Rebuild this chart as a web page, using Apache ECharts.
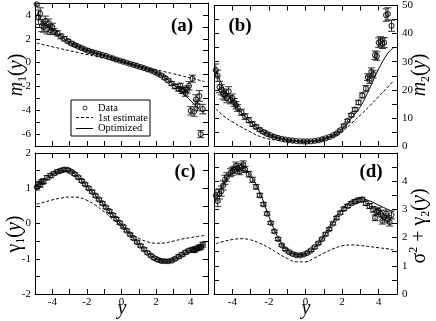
<!DOCTYPE html>
<html>
<head>
<meta charset="utf-8">
<script src="https://cdn.jsdelivr.net/npm/echarts@6/dist/echarts.min.js"></script>
<style>
  html, body { margin: 0; padding: 0; background: #fff; }
  #chart { width: 436px; height: 321px; }
</style>
</head>
<body>
<div id="chart"></div>
<script>
// panel (a): m1(y)
const aX = [-4.9,-4.8,-4.7,-4.6,-4.5,-4.4,-4.3,-4.2,-4.1,-4.0,
  -3.9,-3.7,-3.5,-3.3,-3.1,-2.9,-2.7,-2.5,-2.3,-2.1,-1.9,-1.7,-1.5,-1.3,-1.1,-0.9,-0.7,-0.5,-0.3,-0.1,
  0.1,0.3,0.5,0.7,0.9,1.1,1.3,1.5,1.7,1.9,2.1,2.3,2.5,2.7,2.9,3.1,3.3,
  3.4,3.5,3.6,3.7,3.8,3.9,4.0,4.1,4.2,4.3,4.4,4.5,4.58,4.7]
const aY = [4.9,3.8,4.1,3.1,3.0,3.5,2.8,3.3,2.7,3.0,
  2.6,2.45,2.2,2.0,1.8,1.62,1.48,1.35,1.22,1.1,0.98,0.9,0.82,0.73,0.64,0.55,0.45,0.35,0.26,0.17,
  0.08,-0.01,-0.1,-0.19,-0.28,-0.37,-0.46,-0.56,-0.66,-0.78,-0.92,-1.08,-1.28,-1.5,-1.75,-2.0,-2.2,
  -1.95,-2.35,-2.3,-2.55,-2.25,-1.95,-4.05,-1.35,-4.1,-3.1,-3.6,-2.8,-6.0,-3.9]
const aErr = [0.15,0.6,0.5,0.5,0.45,0.4,0.4,0.35,0.35,0.3,
  0.25,0.22,0.2,0.18,0.15,0.13,0.12,0.1,0.1,0.09,0.08,0.08,0.07,0.07,0.07,0.06,0.06,0.06,0.06,0.06,
  0.06,0.06,0.06,0.06,0.07,0.07,0.07,0.08,0.08,0.09,0.1,0.11,0.12,0.14,0.16,0.18,0.2,
  0.22,0.25,0.25,0.28,0.3,0.35,0.35,0.3,0.4,0.4,0.45,0.45,0.3,0.4]

// panel (b): m2(y)
const bX = [-4.9,-4.8,-4.7,-4.6,-4.5,-4.4,-4.3,-4.2,-4.1,-4.0,-3.9,-3.8,-3.7,
  -3.5,-3.3,-3.1,-2.9,-2.7,-2.5,-2.3,-2.1,-1.9,-1.7,-1.5,-1.3,-1.1,-0.9,-0.7,-0.5,-0.3,-0.1,
  0.1,0.3,0.5,0.7,0.9,1.1,1.3,1.5,1.7,1.9,2.1,2.3,2.5,2.7,2.9,3.1,3.3,
  3.4,3.5,3.6,3.7,3.8,3.9,4.0,4.1,4.2,4.3,4.4,4.5,4.7]
const bY = [27,25,21,20,18.5,18,17,19.5,16.5,17,15.5,14.5,13.5,
  12,10.5,9.2,7.8,6.8,5.8,5.0,4.3,3.8,3.3,2.9,2.6,2.3,2.1,1.9,1.8,1.7,1.65,
  1.65,1.7,1.85,2.05,2.35,2.75,3.2,3.8,4.5,5.6,7.2,9.0,11.0,13.0,15.5,18.0,20.5,
  24.5,23.5,26.5,25.5,32.3,32.0,36.8,37.2,36.5,36.8,46.6,47.0,42.8]
const bErr = [2.2,2.0,2.0,1.8,1.8,1.7,1.6,1.6,1.5,1.5,1.4,1.3,1.2,
  1.1,1.0,0.9,0.8,0.7,0.6,0.5,0.4,0.35,0.3,0.25,0.2,0.2,0.15,0.15,0.15,0.15,0.15,
  0.15,0.15,0.15,0.15,0.15,0.2,0.2,0.25,0.3,0.35,0.4,0.5,0.6,0.7,0.8,0.9,1.0,
  1.2,1.2,1.3,1.3,1.5,1.5,1.7,1.7,1.8,1.8,2.2,2.2,2.0]

// panel (c): gamma1(y)
const cX = [-4.9,-4.8,-4.7,-4.6,-4.5,
  -4.3,-4.1,-3.9,-3.7,-3.5,-3.3,-3.1,-2.9,-2.7,-2.5,-2.3,-2.1,-1.9,-1.7,-1.5,-1.3,-1.1,-0.9,-0.7,-0.5,-0.3,-0.1,
  0.1,0.3,0.5,0.7,0.9,1.1,1.3,1.5,1.7,1.9,2.1,2.3,2.5,2.7,2.9,3.1,3.3,3.5,3.7,3.9,4.1,
  4.2,4.3,4.4,4.5,4.6,4.7]
const cY = [1.03,1.12,1.1,1.18,1.2,
  1.3,1.36,1.42,1.47,1.5,1.53,1.52,1.47,1.4,1.31,1.21,1.11,1.0,0.9,0.79,0.68,0.57,0.46,0.35,0.24,0.13,0.02,
  -0.09,-0.2,-0.31,-0.42,-0.53,-0.63,-0.73,-0.83,-0.91,-0.98,-1.03,-1.06,-1.07,-1.07,-1.05,-1.0,-0.94,-0.88,-0.82,-0.77,-0.74,
  -0.76,-0.72,-0.7,-0.68,-0.66,-0.6]
const cErr = [0.08,0.08,0.07,0.07,0.07,
  0.06,0.06,0.05,0.05,0.05,0.05,0.04,0.04,0.04,0.04,0.04,0.04,0.04,0.04,0.04,0.04,0.04,0.04,0.04,0.04,0.04,0.04,
  0.04,0.04,0.04,0.04,0.04,0.04,0.04,0.04,0.04,0.04,0.04,0.04,0.04,0.04,0.04,0.04,0.05,0.05,0.05,0.05,0.05,
  0.06,0.06,0.06,0.07,0.07,0.07]

// panel (d): sigma^2 + gamma2(y)
const dX = [-4.9,-4.8,-4.7,-4.6,-4.5,-4.4,-4.3,
  -4.1,-4.0,-3.9,-3.8,-3.7,-3.6,-3.5,-3.4,-3.3,
  -3.1,-2.9,-2.7,-2.5,-2.3,-2.1,-1.9,-1.7,-1.5,-1.3,-1.1,-0.9,-0.7,-0.5,-0.3,-0.1,
  0.1,0.3,0.5,0.7,0.9,1.1,1.3,1.5,1.7,1.9,2.1,2.3,2.5,2.7,2.9,3.1,3.3,3.5,3.7,
  3.8,3.9,4.0,4.1,4.2,4.3,4.4,4.5,4.6,4.7]
const dY = [3.5,3.3,3.55,3.65,3.85,4.05,4.15,
  4.3,4.35,4.4,4.55,4.45,4.35,4.5,4.6,4.42,
  4.25,4.05,3.8,3.5,3.18,2.85,2.52,2.22,1.95,1.73,1.58,1.49,1.42,1.38,1.37,1.4,
  1.46,1.55,1.66,1.8,1.95,2.12,2.3,2.5,2.7,2.88,3.02,3.12,3.22,3.28,3.33,3.35,3.22,3.12,3.0,
  2.7,2.92,2.95,2.85,2.6,2.72,2.85,2.65,2.55,2.8]
const dErr = [0.2,0.2,0.18,0.18,0.16,0.16,0.15,
  0.14,0.14,0.13,0.13,0.12,0.12,0.12,0.12,0.11,
  0.1,0.09,0.08,0.07,0.06,0.06,0.05,0.05,0.05,0.04,0.04,0.04,0.04,0.04,0.04,0.04,
  0.04,0.04,0.04,0.04,0.04,0.05,0.05,0.05,0.05,0.05,0.06,0.06,0.06,0.07,0.07,0.08,0.08,0.09,0.1,
  0.1,0.1,0.11,0.11,0.12,0.12,0.13,0.13,0.14,0.14]

// model curves (optimized / first estimate)
const curveX = [-4.9,-4.5,-4,-3.5,-3,-2.5,-2,-1.5,-1,-0.5,0,0.5,1,1.5,2,2.5,3,3.5,4,4.5,4.8]
const aFit = [4.1,3.3,2.7,2.2,1.72,1.37,1.07,0.82,0.6,0.37,0.14,-0.08,-0.31,-0.55,-0.84,-1.25,-1.82,-2.5,-3.2,-3.9,-4.35]
const aGuess = [1.63,1.5,1.33,1.16,1.0,0.84,0.68,0.52,0.36,0.2,0.04,-0.12,-0.28,-0.44,-0.6,-0.77,-0.94,-1.11,-1.29,-1.48,-1.6]
const bFit = [27,21,16,11.8,8.4,5.9,4.1,3.0,2.25,1.8,1.65,1.85,2.5,3.7,6.0,9.8,14,20.5,27.5,33,35]
const bGuess = [13.2,10.8,8.6,6.7,5.0,3.4,2.5,1.95,1.55,1.35,1.3,1.5,2.1,3.3,5.2,8.0,11,14.2,17.6,21,23.1]
const cFit = [1.05,1.22,1.4,1.5,1.5,1.32,1.06,0.79,0.52,0.24,-0.03,-0.31,-0.58,-0.83,-1.0,-1.07,-1.03,-0.9,-0.77,-0.67,-0.6]
const cGuess = [0.55,0.6,0.67,0.72,0.75,0.74,0.66,0.52,0.33,0.12,-0.08,-0.27,-0.42,-0.52,-0.56,-0.55,-0.5,-0.44,-0.4,-0.36,-0.34]
const dFit = [3.45,3.9,4.35,4.48,4.2,3.6,2.75,2.0,1.58,1.4,1.42,1.65,2.05,2.55,3.0,3.27,3.38,3.3,3.15,3.0,2.92]
const dGuess = [1.78,1.86,1.93,1.96,1.92,1.8,1.64,1.44,1.26,1.14,1.14,1.28,1.45,1.6,1.71,1.74,1.72,1.68,1.64,1.6,1.57]

const FONT = 'Liberation Serif'

// [min, max, tick step, label step]
const yRanges = [[-7, 5, 1, 2], [0, 50, 5, 10], [-2, 2, 0.5, 1], [0, 5, 0.5, 1]]
const grids = [
  {left: 35, top: 3, width: 173, height: 143},
  {left: 214, top: 3, width: 183, height: 143},
  {left: 35, top: 153, width: 173, height: 141},
  {left: 214, top: 153, width: 183, height: 141}
]

function onStep(v, step) {
  return Math.abs(v / step - Math.round(v / step)) < 1e-6
}

const axisLine = {onZero: false, lineStyle: {color: '#000', width: 1}}
const axisTick = {inside: true, length: 5, lineStyle: {color: '#000', width: 1}}
const labelStyle = {color: '#000', fontFamily: FONT, fontSize: 11}

let xAxis = []
let yAxis = []
grids.forEach((g, i) => {
  let bottomLabels = i >= 2
  xAxis.push({type: 'value', gridIndex: i, position: 'bottom', min: -5, max: 5, interval: 1,
    axisLine, axisTick, splitLine: {show: false},
    axisLabel: Object.assign({show: bottomLabels, margin: 3, formatter: v => onStep(v, 2) ? String(v) : ''}, labelStyle)})
  xAxis.push({type: 'value', gridIndex: i, position: 'top', min: -5, max: 5, interval: 1,
    axisLine, axisTick, splitLine: {show: false}, axisLabel: {show: false}})
  let r = yRanges[i]
  let rightLabels = (i % 2) === 1
  let fmt = v => (onStep(v, r[3]) && !(i === 3 && v === 5)) ? String(v) : ''
  yAxis.push({type: 'value', gridIndex: i, position: 'left', min: r[0], max: r[1], interval: r[2],
    axisLine, axisTick, splitLine: {show: false},
    axisLabel: Object.assign({show: !rightLabels, margin: 4, formatter: fmt}, labelStyle)})
  yAxis.push({type: 'value', gridIndex: i, position: 'right', min: r[0], max: r[1], interval: r[2],
    axisLine, axisTick, splitLine: {show: false},
    axisLabel: Object.assign({show: rightLabels, margin: 5, formatter: fmt}, labelStyle)})
})

function zip(xs, ys) {
  return xs.map((x, k) => [x, ys[k]])
}

function panelSeries(i, xs, ys, es, fit, guess) {
  return [
    {
      name: '1st estimate', type: 'line', xAxisIndex: 2 * i, yAxisIndex: 2 * i,
      data: zip(curveX, guess), smooth: 0.4, showSymbol: false, z: 2,
      lineStyle: {color: '#000', width: 1, type: [3, 2]}
    },
    {
      name: 'Optimized', type: 'line', xAxisIndex: 2 * i, yAxisIndex: 2 * i,
      data: zip(curveX, fit), smooth: 0.4, showSymbol: false, z: 2,
      lineStyle: {color: '#000', width: 1}
    },
    {
      type: 'custom', xAxisIndex: 2 * i, yAxisIndex: 2 * i, z: 3, silent: true, clip: true,
      data: xs.map((x, k) => [x, ys[k] - es[k], ys[k] + es[k]]),
      renderItem(params, api) {
        let lo = api.coord([api.value(0), api.value(1)])
        let hi = api.coord([api.value(0), api.value(2)])
        let w = 3.5
        let st = {stroke: '#333', lineWidth: 1}
        return {type: 'group', children: [
          {type: 'line', shape: {x1: lo[0], y1: lo[1], x2: hi[0], y2: hi[1]}, style: st},
          {type: 'line', shape: {x1: lo[0] - w, y1: lo[1], x2: lo[0] + w, y2: lo[1]}, style: st},
          {type: 'line', shape: {x1: hi[0] - w, y1: hi[1], x2: hi[0] + w, y2: hi[1]}, style: st}
        ]}
      }
    },
    {
      name: 'Data', type: 'scatter', xAxisIndex: 2 * i, yAxisIndex: 2 * i,
      data: zip(xs, ys), symbol: 'circle', symbolSize: 5, z: 4,
      itemStyle: {color: 'rgba(255,255,255,0)', borderColor: '#000', borderWidth: 1.1}
    }
  ]
}

let series = [].concat(
  panelSeries(0, aX, aY, aErr, aFit, aGuess),
  panelSeries(1, bX, bY, bErr, bFit, bGuess),
  panelSeries(2, cX, cY, cErr, cFit, cGuess),
  panelSeries(3, dX, dY, dErr, dFit, dGuess)
)

const italic = {fontFamily: FONT, fontStyle: 'italic', fontSize: 20, lineHeight: 24, fill: '#000'}
const plain = {fontFamily: FONT, fontSize: 20, lineHeight: 24, fill: '#000'}
const sub = {fontFamily: FONT, fontSize: 12, lineHeight: 12, verticalAlign: 'bottom', fill: '#000'}
const sup = {fontFamily: FONT, fontSize: 12, lineHeight: 12, verticalAlign: 'top', fill: '#000'}

function sideLabel(x, y, text) {
  return {type: 'text', x, y, rotation: Math.PI / 2, z: 10,
    style: {text, align: 'center', verticalAlign: 'middle', rich: {i: italic, p: plain, s: sub, u: sup}}}
}

function tag(x, y, text) {
  return {type: 'text', x, y, z: 10,
    style: {text, fontFamily: FONT, fontWeight: 'bold', fontSize: 19, fill: '#000', align: 'center', verticalAlign: 'middle'}}
}

const graphic = [
  sideLabel(17, 75, '{i|m}{s|1}{p|(}{i|y}{p|)}'),
  sideLabel(420, 75, '{i|m}{s|2}{p|(}{i|y}{p|)}'),
  sideLabel(15, 234, '{p|γ}{s|1}{p|(}{i|y}{p|)}'),
  sideLabel(420, 226, '{p|σ}{u|2}{p| + γ}{s|2}{p|(}{i|y}{p|)}'),
  {type: 'text', x: 122, y: 309, style: {text: 'y', fontFamily: FONT, fontStyle: 'italic', fontSize: 20, fill: '#000', align: 'center', verticalAlign: 'middle'}},
  {type: 'text', x: 306, y: 309, style: {text: 'y', fontFamily: FONT, fontStyle: 'italic', fontSize: 20, fill: '#000', align: 'center', verticalAlign: 'middle'}},
  tag(182, 26, '(a)'),
  tag(240, 26, '(b)'),
  tag(185, 172, '(c)'),
  tag(371, 172, '(d)'),
  // legend box in panel (a)
  {type: 'group', x: 71, y: 100, z: 10, children: [
    {type: 'rect', shape: {x: 0, y: 0, width: 79, height: 36}, style: {fill: '#fff', stroke: '#000', lineWidth: 1}},
    {type: 'circle', shape: {cx: 14, cy: 8, r: 2}, style: {fill: '#fff', stroke: '#000', lineWidth: 0.8}},
    {type: 'line', shape: {x1: 5, y1: 17.5, x2: 22, y2: 17.5}, style: {stroke: '#000', lineWidth: 1, lineDash: [3, 2]}},
    {type: 'line', shape: {x1: 5, y1: 28.5, x2: 22, y2: 28.5}, style: {stroke: '#000', lineWidth: 1}},
    {type: 'text', x: 27, y: 8, style: {text: 'Data', fontFamily: FONT, fontSize: 10.5, fill: '#000', verticalAlign: 'middle'}},
    {type: 'text', x: 27, y: 18, style: {text: '1st estimate', fontFamily: FONT, fontSize: 10.5, fill: '#000', verticalAlign: 'middle'}},
    {type: 'text', x: 27, y: 28.5, style: {text: 'Optimized', fontFamily: FONT, fontSize: 10.5, fill: '#000', verticalAlign: 'middle'}}
  ]}
]

const chart = echarts.init(document.getElementById('chart'))
chart.setOption({
  animation: false,
  grid: grids,
  xAxis,
  yAxis,
  series,
  graphic
})
</script>
</body>
</html>
